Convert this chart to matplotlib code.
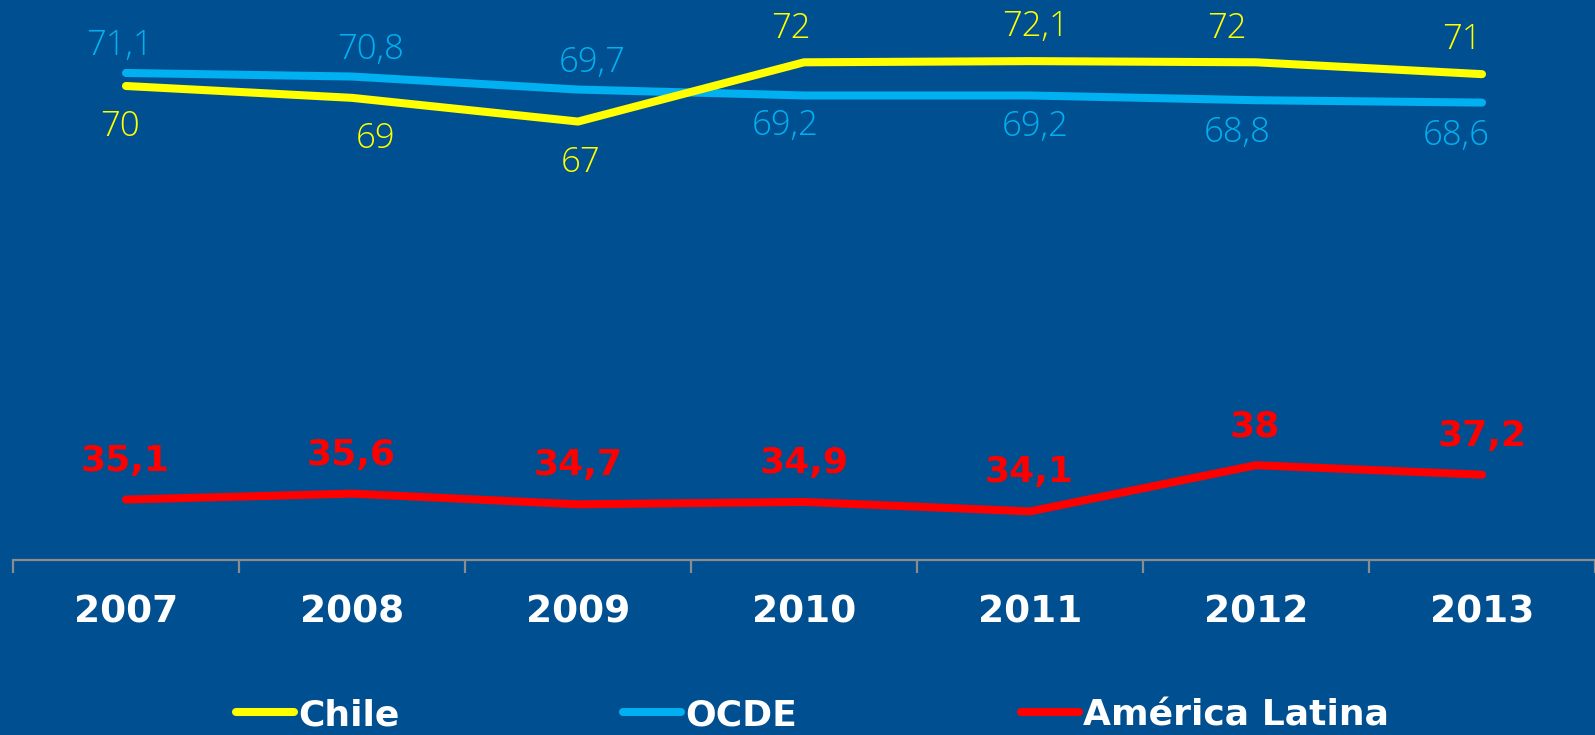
import matplotlib
matplotlib.use('Agg')
import matplotlib.pyplot as plt

years = ['2007', '2008', '2009', '2010', '2011', '2012', '2013']
chile = [70, 69, 67, 72, 72.1, 72, 71]
ocde = [71.1, 70.8, 69.7, 69.2, 69.2, 68.8, 68.6]
latam = [35.1, 35.6, 34.7, 34.9, 34.1, 38, 37.2]

# label placement (pixels): dy above/below the point, dx = nudge
chile_dy = [-41, -41, -41, 34, 34, 34, 34]
ocde_dy = [27, 27, 27, -30, -31, -33, -33]
chile_dx = [-6, 24, 3, -13, 5, -29, -20]
ocde_dx = [-6, 19, 14, -19, 5, -19, -26]
latam_dx = [-1, -1, 0, 0, -1, -1, 0]

bg = '#004F90'
yellow = '#FFFF00'
blue = '#00B0F0'
red = '#FF0000'

def fmt(v):
    s = ('%.1f' % v).rstrip('0').rstrip('.')
    return s.replace('.', ',')

fig = plt.figure(figsize=(15.95, 7.35), dpi=100, facecolor=bg)
ax = fig.add_axes([13 / 1595, 175 / 735, 1 - 13 / 1595, 560 / 735])
ax.set_facecolor(bg)

x = list(range(len(years)))
lw = 5.8
ax.plot(x, chile, color=yellow, lw=lw, solid_capstyle='round', label='Chile', zorder=3)
ax.plot(x, ocde, color=blue, lw=lw, solid_capstyle='round', label='OCDE', zorder=2)
ax.plot(x, latam, color=red, lw=lw, solid_capstyle='round', label='América Latina', zorder=3)

light = dict(family=['Open Sans', 'DejaVu Sans'], fontweight='light', fontsize=25,
             ha='center', va='center', textcoords='offset pixels')
for i, v in enumerate(chile):
    ax.annotate(fmt(v), (i, v), xytext=(chile_dx[i], chile_dy[i]),
                color=yellow, **light)
for i, v in enumerate(ocde):
    ax.annotate(fmt(v), (i, v), xytext=(ocde_dx[i], ocde_dy[i]),
                color=blue, **light)
for i, v in enumerate(latam):
    ax.annotate(fmt(v), (i, v), xytext=(latam_dx[i], 39), textcoords='offset pixels',
                color=red, fontsize=26, fontweight='bold', ha='center', va='center')

ax.set_xlim(-0.5, 6.5)
ax.set_ylim(30, 30 + 560 / 11.85)
for s in ['top', 'right', 'left']:
    ax.spines[s].set_visible(False)
ax.spines['bottom'].set_color('#8C8C8C')
ax.spines['bottom'].set_linewidth(1.6)
ax.set_yticks([])
ax.set_xticks([i - 0.5 for i in range(len(years) + 1)])
ax.set_xticklabels([])
ax.set_xticks(x, minor=True)
ax.set_xticklabels(years, minor=True, color='white', fontsize=27, fontweight='bold')
ax.tick_params(axis='x', which='major', length=9, width=1.6, color='#8C8C8C', direction='out')
ax.tick_params(axis='x', which='minor', length=0, pad=25)

leg = fig.legend(loc='center left', bbox_to_anchor=(236 / 1595, 20 / 735), ncol=3,
                 frameon=False, borderpad=0, borderaxespad=0, handlelength=1.6,
                 handletextpad=0.12, columnspacing=6.2,
                 prop=dict(weight='bold', size=26))
for t in leg.get_texts():
    t.set_color('white')
for h in leg.legend_handles:
    h.set_solid_capstyle('round')

fig.savefig('out.png', dpi=100, facecolor=bg)
